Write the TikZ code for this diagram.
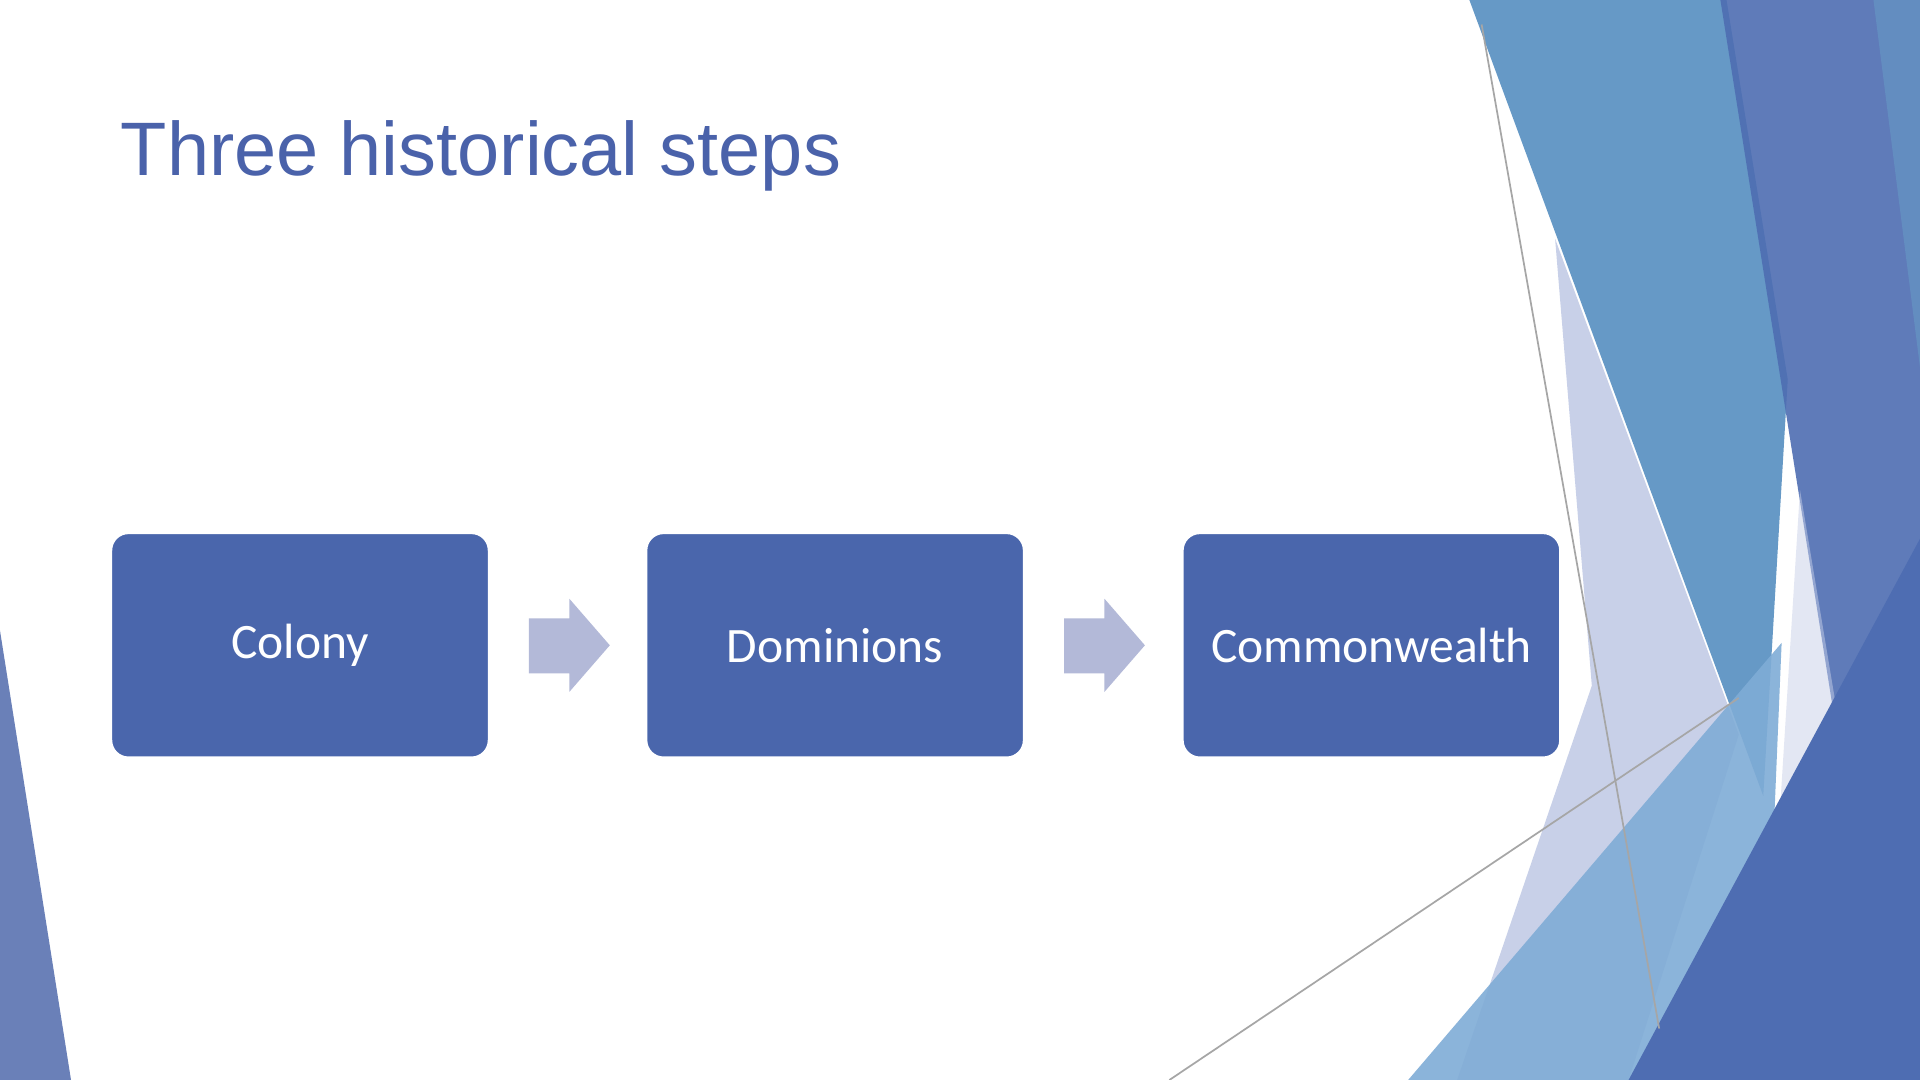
\documentclass[tikz,border=0pt]{standalone}
\usepackage{fontspec}
\setmainfont{Liberation Sans}
\newfontfamily\boxfont{Carlito}
\definecolor{titleblue}{HTML}{4A62AA}
\definecolor{boxblue}{HTML}{4A66AC}
\definecolor{arrowgray}{HTML}{B3B9D8}
\definecolor{midblue}{HTML}{6699C6}
\definecolor{darkblue}{HTML}{4E6DB2}
\definecolor{lightblue}{HTML}{7FACD6}
\definecolor{pale}{HTML}{C8D0E8}
\definecolor{wedge}{HTML}{6A80B8}
\begin{document}
\begin{tikzpicture}[x=0.01cm,y=-0.01cm,
  stepbox/.style={draw=white,line width=1pt,fill=boxblue,rounded corners=0.15cm,minimum width=3.1cm,minimum height=1.85cm,text=white,font=\boxfont\fontsize{11.5pt}{13pt}\selectfont},
  chev/.style={fill=arrowgray}]
\useasboundingbox (0,0) rectangle (1568,882);
\fill[white] (0,0) rectangle (1568,882);
% right decoration
\fill[pale] (1270,195) -- (1420,600) -- (1330,882) -- (1190,882) -- (1300,560) -- cycle;
\fill[midblue] (1200,0) -- (1410,0) -- (1460,310) -- (1440,650) -- cycle;
\fill[darkblue,opacity=0.9] (1405,0) -- (1568,0) -- (1568,882) -- (1545,882) -- cycle;
\fill[midblue,opacity=0.6] (1530,0) -- (1568,0) -- (1568,300) -- cycle;
\fill[lightblue,opacity=0.9] (1150,882) -- (1455,525) -- (1440,882) -- cycle;
\fill[pale,opacity=0.5] (1440,880) -- (1470,400) -- (1500,580) -- cycle;
\fill[darkblue] (1330,882) -- (1568,440) -- (1568,882) -- cycle;
\draw[gray!70,line width=0.4pt] (1210,20) -- (1355,840);
\draw[gray!70,line width=0.4pt] (955,882) -- (1420,570);
% left wedge
\fill[wedge] (0,515) -- (58,882) -- (0,882) -- cycle;
% title
\node[anchor=base west,text=titleblue,font=\fontsize{17.6pt}{20pt}\selectfont,inner sep=0] (title) at (98,143) {Three historical steps};
% boxes
\node[stepbox] (b1) at (245,527) {Colony};
\node[stepbox] (b2) at (682,527) {Dominions};
\node[stepbox] (b3) at (1120,527) {Commonwealth};
% chevrons
\fill[chev] (432,505) -- (465,505) -- (465,489) -- (498,527) -- (465,565) -- (465,550) -- (432,550) -- cycle;
\fill[chev] (869,505) -- (902,505) -- (902,489) -- (935,527) -- (902,565) -- (902,550) -- (869,550) -- cycle;
\end{tikzpicture}
\end{document}
